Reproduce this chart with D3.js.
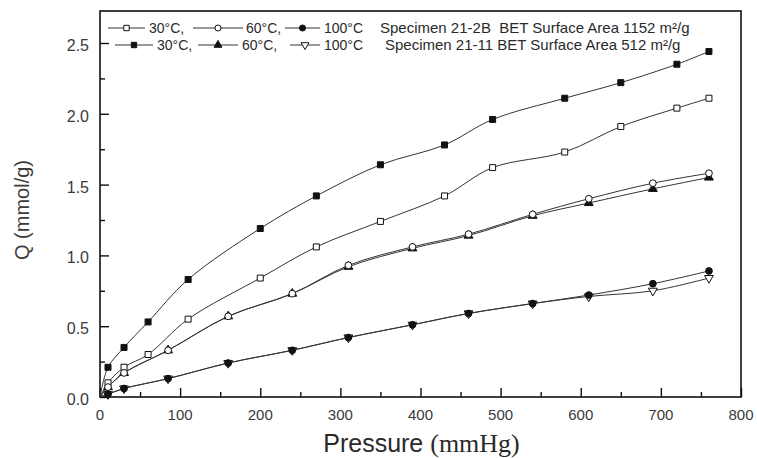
<!DOCTYPE html>
<html>
<head>
<meta charset="utf-8">
<script src="https://cdn.jsdelivr.net/npm/d3@7"></script>
<style>
  body { margin: 0; background: #fff; }
  text { font-family: "Liberation Sans", Arial, sans-serif; fill: #2a2a2a; }
</style>
</head>
<body>
<div id="chart"></div>
<script>
// pressure points (mmHg)
var p30 = [0, 10, 30, 60, 110, 200, 270, 350, 430, 490, 580, 650, 720, 760];
var p60 = [0, 10, 30, 85, 160, 240, 310, 390, 460, 540, 610, 690, 760];

// uptake Q (mmol/g)
var q30_2B  = [0, 0.10, 0.21, 0.30, 0.55, 0.84, 1.06, 1.24, 1.42, 1.62, 1.73, 1.91, 2.04, 2.11];
var q30_11  = [0, 0.21, 0.35, 0.53, 0.83, 1.19, 1.42, 1.64, 1.78, 1.96, 2.11, 2.22, 2.35, 2.44];
var q60_2B  = [0, 0.07, 0.17, 0.33, 0.57, 0.73, 0.93, 1.06, 1.15, 1.29, 1.40, 1.51, 1.58];
var q60_11  = [0, 0.07, 0.17, 0.33, 0.57, 0.73, 0.92, 1.05, 1.14, 1.28, 1.37, 1.47, 1.55];
var q100_2B = [0, 0.02, 0.06, 0.13, 0.24, 0.33, 0.42, 0.51, 0.59, 0.66, 0.72, 0.80, 0.89];
var q100_11 = [0, 0.02, 0.06, 0.13, 0.24, 0.33, 0.42, 0.51, 0.59, 0.66, 0.71, 0.75, 0.84];

// ticks
var xTicks = [0, 100, 200, 300, 400, 500, 600, 700, 800];
var yTicks = [0.0, 0.5, 1.0, 1.5, 2.0, 2.5];

var tempLabels = ["30°C,", "60°C,", "100°C"];
var specLabels = ["Specimen 21-2B  BET Surface Area 1152 m²/g",
                  "Specimen 21-11 BET Surface Area 512 m²/g"];

// drawn in this order: specimen 21-11 first so 21-2B marks sit on top
var series = [
  {p: p30, q: q30_11,  sym: "square",   fill: "#111", row: 1, col: 0},
  {p: p60, q: q60_11,  sym: "triangle", fill: "#111", row: 1, col: 1},
  {p: p60, q: q100_11, sym: "tridown",  fill: "#fff", row: 1, col: 2},
  {p: p30, q: q30_2B,  sym: "square",   fill: "#fff", row: 0, col: 0},
  {p: p60, q: q60_2B,  sym: "circle",   fill: "#fff", row: 0, col: 1},
  {p: p60, q: q100_2B, sym: "circle",   fill: "#111", row: 0, col: 2}
];

var W = 757, H = 458;
var mLeft = 100, mRight = 741, mTop = 11, mBottom = 397;

var svg = d3.select("#chart")
  .append("svg")
    .attr("width", W)
    .attr("height", H);

var x = d3.scaleLinear().domain([0, 800]).range([mLeft, mRight]);
var y = d3.scaleLinear().domain([0, 2.726]).range([mBottom, mTop]);

// frame
svg.append("rect")
  .attr("x", mLeft).attr("y", mTop)
  .attr("width", mRight - mLeft).attr("height", mBottom - mTop)
  .attr("fill", "none").attr("stroke", "#111").attr("stroke-width", 1.6);

// x axis, ticks pointing inward
var xAxis = svg.append("g")
  .attr("transform", "translate(0," + mBottom + ")")
  .call(d3.axisTop(x).tickValues(d3.range(0, 801, 50)).tickSize(0).tickFormat(""));
xAxis.select(".domain").remove();
xAxis.selectAll(".tick line")
  .attr("y2", function(d){ return d % 100 == 0 ? -9 : -5; })
  .attr("stroke", "#111").attr("stroke-width", 1.4);

svg.selectAll("xlab")
  .data(xTicks)
  .enter().append("text")
    .attr("x", function(d){ return x(d); })
    .attr("y", mBottom + 23)
    .attr("text-anchor", "middle")
    .style("font-size", "15px")
    .style("fill", "#3a3a3a")
    .text(function(d){ return d; });

// y axis
var yAxis = svg.append("g")
  .attr("transform", "translate(" + mLeft + ",0)")
  .call(d3.axisRight(y).tickValues(d3.range(0, 2.7, 0.25)).tickSize(0).tickFormat(""));
yAxis.select(".domain").remove();
yAxis.selectAll(".tick line")
  .attr("x2", function(d){ return Math.abs(d * 2 - Math.round(d * 2)) < 1e-6 ? 9 : 5; })
  .attr("stroke", "#111").attr("stroke-width", 1.4);

svg.selectAll("ylab")
  .data(yTicks)
  .enter().append("text")
    .attr("x", mLeft - 11)
    .attr("y", function(d){ return y(d) + 8; })
    .attr("text-anchor", "end")
    .style("font-size", "16px")
    .style("fill", "#3a3a3a")
    .text(function(d){ return d.toFixed(1); });

// axis titles
svg.append("text")
  .attr("transform", "translate(29,210) rotate(-90)")
  .attr("text-anchor", "middle")
  .style("font-size", "20px")
  .style("fill", "#3a3a3a")
  .text("Q (mmol/g)");

var xt = svg.append("text")
  .attr("x", (mLeft + mRight) / 2 + 1)
  .attr("y", 452)
  .attr("text-anchor", "middle")
  .style("font-size", "25px");
xt.append("tspan").text("Pressure ");
xt.append("tspan")
  .style("font-family", "'Liberation Serif', 'Times New Roman', serif")
  .style("font-size", "26px")
  .text("(mmHg)");

// symbol helper
function symPath(s, size) {
  var t = s == "square" ? d3.symbolSquare : s == "circle" ? d3.symbolCircle : d3.symbolTriangle;
  return d3.symbol().type(t).size(size)();
}
function symSize(s) {
  return s == "square" ? 36 : s == "circle" ? 36 : 34;
}

var line = d3.line()
  .x(function(d){ return x(d[0]); })
  .y(function(d){ return y(d[1]); })
  .curve(d3.curveCatmullRom.alpha(0.5));

// lines + markers
series.forEach(function(s) {
  var pts = s.p.map(function(v, i){ return [v, s.q[i]]; });
  svg.append("path")
    .datum(pts)
    .attr("d", line)
    .attr("fill", "none")
    .attr("stroke", "#333")
    .attr("stroke-width", 1);
  svg.selectAll(null)
    .data(pts.filter(function(d){ return d[0] > 0; }))
    .enter().append("path")
      .attr("d", symPath(s.sym, symSize(s.sym)))
      .attr("transform", function(d){
        return "translate(" + x(d[0]) + "," + y(d[1]) + ")" + (s.sym == "tridown" ? " rotate(180)" : "");
      })
      .attr("fill", s.fill)
      .attr("stroke", "#111")
      .attr("stroke-width", 1);
});

// legend
var rowY = [28, 45];
var lineX = [[108, 145, 193, 243, 285, 320], [115, 153, 198, 238, 290, 320]];
var textX = [[149, 246, 324, 380], [157, 242, 324, 385]];

series.forEach(function(s) {
  var x0 = lineX[s.row][s.col * 2], x1 = lineX[s.row][s.col * 2 + 1];
  svg.append("line")
    .attr("x1", x0).attr("x2", x1)
    .attr("y1", rowY[s.row]).attr("y2", rowY[s.row])
    .attr("stroke", "#333").attr("stroke-width", 1);
  svg.append("path")
    .attr("d", symPath(s.sym, symSize(s.sym) * 0.8))
    .attr("transform", "translate(" + ((x0 + x1) / 2) + "," + rowY[s.row] + ")" + (s.sym == "tridown" ? " rotate(180)" : ""))
    .attr("fill", s.fill).attr("stroke", "#111").attr("stroke-width", 1);
});

[0, 1].forEach(function(r) {
  tempLabels.forEach(function(t, i) {
    svg.append("text")
      .attr("x", textX[r][i]).attr("y", rowY[r] + 5)
      .style("font-size", "14px")
      .text(t);
  });
  svg.append("text")
    .attr("x", textX[r][3]).attr("y", rowY[r] + 5)
    .style("font-size", "15px")
    .style("white-space", "pre")
    .text(specLabels[r]);
});
</script>
</body>
</html>
